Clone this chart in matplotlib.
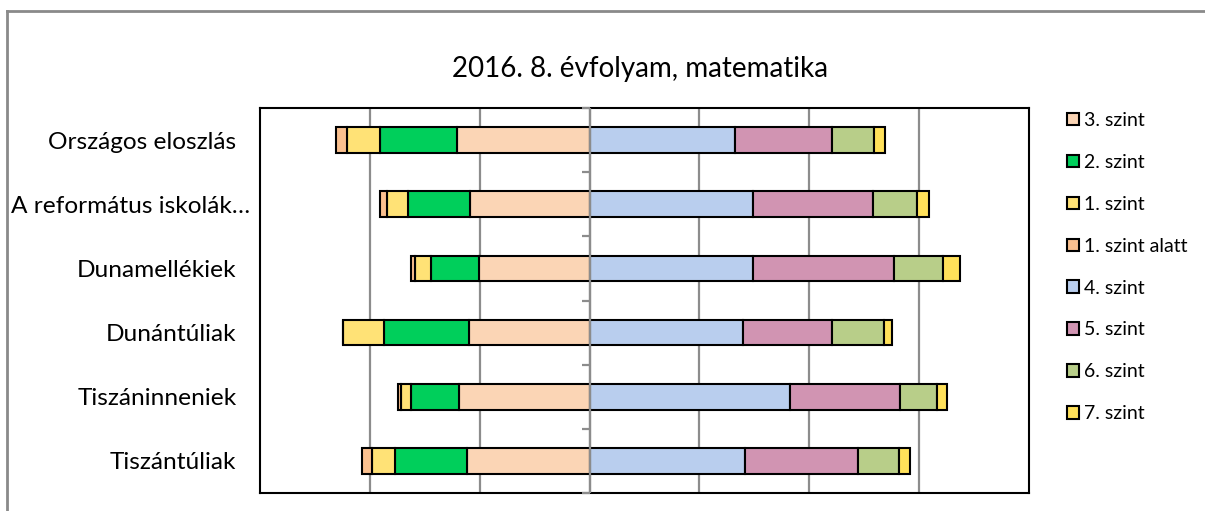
import matplotlib
matplotlib.use("Agg")
import matplotlib.pyplot as plt
import matplotlib.transforms as mtransforms
from matplotlib.lines import Line2D
import numpy as np

plt.rcParams['font.family'] = ['Lato', 'DejaVu Sans']

title = "2016. 8. évfolyam, matematika"
categories = ["Országos eloszlás", "A református iskolák…", "Dunamellékiek",
              "Dunántúliak", "Tiszáninneniek", "Tiszántúliak"]

# percentages (left side: below level 4; right side: level 4 and above)
szint1_alatt = [2.1, 1.3, 0.8, 0.0, 0.5, 1.8]
szint1 = [5.9, 3.8, 2.9, 7.3, 1.8, 4.2]
szint2 = [14.0, 11.2, 8.6, 15.6, 8.8, 13.0]
szint3 = [24.2, 21.8, 20.2, 21.9, 23.8, 22.4]
szint4 = [26.4, 29.7, 29.8, 27.9, 36.4, 28.3]
szint5 = [17.8, 21.9, 25.6, 16.2, 20.1, 20.6]
szint6 = [7.5, 8.0, 9.0, 9.5, 6.7, 7.4]
szint7 = [2.1, 2.2, 3.0, 1.4, 1.9, 2.0]

legend_labels = ["3. szint", "2. szint", "1. szint", "1. szint alatt",
                 "4. szint", "5. szint", "6. szint", "7. szint"]
colors = {"3. szint": "#FBD5B5", "2. szint": "#00CF5B", "1. szint": "#FFE276",
          "1. szint alatt": "#FAC08F", "4. szint": "#B9CEEE", "5. szint": "#D194B2",
          "6. szint": "#B8CE89", "7. szint": "#FFE15A"}

W, H = 1205, 511
fig = plt.figure(figsize=(W / 100, H / 100), dpi=100)
ax = fig.add_axes([260 / W, 1 - 493 / H, (1029 - 260) / W, (493 - 108) / H])

y = np.arange(len(categories))
bh = 0.4
ekw = dict(edgecolor="black", linewidth=1.5, zorder=3)

handles = {}
# left side, stacked outward from the centre
left_series = [("3. szint", szint3), ("2. szint", szint2), ("1. szint", szint1),
               ("1. szint alatt", szint1_alatt)]
cum = np.zeros(len(categories))
for name, vals in left_series:
    v = np.array(vals)
    handles[name] = ax.barh(y, -v, left=-cum, height=bh, color=colors[name], **ekw)
    cum += v

right_series = [("4. szint", szint4), ("5. szint", szint5), ("6. szint", szint6),
                ("7. szint", szint7)]
cum = np.zeros(len(categories))
for name, vals in right_series:
    v = np.array(vals)
    handles[name] = ax.barh(y, v, left=cum, height=bh, color=colors[name], **ekw)
    cum += v

ax.set_xlim(-60, 80)
ax.set_ylim(len(categories) - 0.5, -0.5)
ax.set_xticks(np.arange(-40, 61, 20))
ax.set_xticklabels([])
ax.tick_params(axis="x", length=0)
ax.grid(axis="x", color="#8C8C8C", linewidth=1.6, zorder=0)
ax.set_axisbelow(True)

# category axis at zero with tick marks between categories
ax.axvline(0, color="#8C8C8C", linewidth=1.6, zorder=4)
ax.hlines(np.arange(-0.5, len(categories)), -1.45, 0, color="#8C8C8C",
          linewidth=1.6, zorder=4, clip_on=False)

ax.set_yticks(y)
ax.set_yticklabels(categories, fontsize=17.6, color="black")
ax.tick_params(axis="y", length=0, pad=17)
lab = ax.get_yticklabels()[1]
lab.set_transform(lab.get_transform() + mtransforms.ScaledTranslation(14 / 100, 0, fig.dpi_scale_trans))

for s in ax.spines.values():
    s.set_color("black")
    s.set_linewidth(1.5)

fig.text(640 / W, 1 - 69 / H, title, ha="center", va="center", fontsize=20)

leg = fig.legend([handles[n] for n in legend_labels], legend_labels,
                 loc="upper left", bbox_to_anchor=(1067 / W, 1 - 112 / H),
                 frameon=False, fontsize=14, handlelength=0.62, handleheight=0.62,
                 handletextpad=0.26, labelspacing=1.28, borderaxespad=0, borderpad=0)

# outer chart frame (partially visible)
fig.add_artist(Line2D([7 / W, 1.0], [1 - 11.5 / H] * 2, color="#8A8A8A", linewidth=2))
fig.add_artist(Line2D([7 / W] * 2, [0, 1 - 11.5 / H], color="#8A8A8A", linewidth=2))

fig.savefig("out.png", dpi=100)
